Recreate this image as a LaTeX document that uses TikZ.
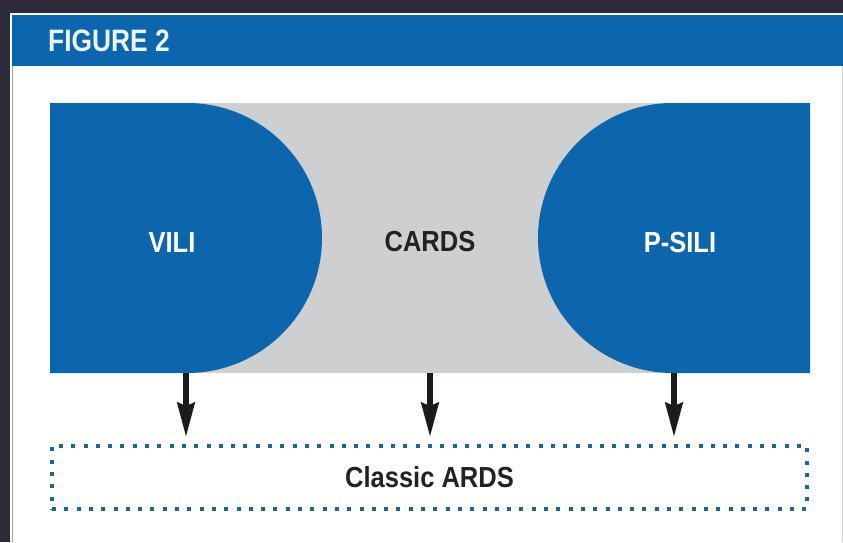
\documentclass[tikz,border=0pt]{standalone}
\usepackage{fontspec}
\setmainfont{Liberation Sans}[FakeStretch=0.88]
\newfontfamily\headfont{Liberation Sans}[FakeStretch=0.85]
\usetikzlibrary{arrows.meta}

\definecolor{framedark}{HTML}{2C2A38}
\definecolor{headblue}{HTML}{0B66AD}
\definecolor{headtext}{HTML}{EAF4FA}
\definecolor{panelgray}{HTML}{CDCFD1}
\definecolor{dotblue}{HTML}{1E6592}
\definecolor{arrowink}{HTML}{1B1B1B}
\definecolor{labelink}{HTML}{222222}

\tikzset{
  lobe/.style={fill=headblue, draw=none},
  lobelabel/.style={text=white, font=\bfseries\fontsize{29}{30}\selectfont, inner sep=0pt},
  midlabel/.style={text=labelink, font=\bfseries\fontsize{29}{30}\selectfont, inner sep=0pt},
  dotbox/.style={draw=dotblue, line width=4pt, dash pattern=on 4pt off 8.3pt,
    minimum width=755pt, minimum height=63pt, inner sep=0pt,
    text=labelink, font=\bfseries\fontsize{29}{30}\selectfont},
  downarrow/.style={draw=arrowink, line width=6pt, shorten >=7pt,
    -{Stealth[length=34pt, width=17pt, inset=3pt]}}
}

\begin{document}
\begin{tikzpicture}[x=1pt, y=-1pt]
  \useasboundingbox (0,0) rectangle (843,542);

  % frame and white panel
  \fill[framedark] (0,0) rectangle (843,542);
  \fill[white] (10,13) rectangle (843,542);
  \draw[gray!70, line width=1pt] (12.5,66) -- (12.5,542);
  \draw[gray!35, line width=1pt] (842,66) -- (842,542);

  % header bar
  \fill[headblue] (12,15) rectangle (843,66);
  \node[anchor=base west, inner sep=0pt, text=headtext,
        font=\headfont\bfseries\fontsize{31}{32}\selectfont] (title) at (48,51.7) {FIGURE 2};

  % gray band with the two blue lobes
  \node[fill=panelgray, draw=none, minimum width=760pt, minimum height=270pt,
        inner sep=0pt, outer sep=0pt] (cards) at (430,238) {};
  \fill[lobe] (cards.north west) -- (187,103)
      arc[start angle=-90, end angle=90, radius=135] -- (cards.south west) -- cycle;
  \fill[lobe] (cards.north east) -- (673,103)
      arc[start angle=-90, end angle=-270, radius=135] -- (cards.south east) -- cycle;

  \node[lobelabel] (vili) at (172,242.5) {VILI};
  \node[midlabel] (cardslabel) at (430,242) {CARDS};
  \node[lobelabel] (psili) at (680,242.5) {P-SILI};

  % dotted outcome box
  \node[dotbox] (ards) at (429.5,477.5) {Classic ARDS};

  % arrows
  \coordinate (s1) at (186,373);
  \coordinate (s2) at (430,373);
  \coordinate (s3) at (674,373);
  \draw[downarrow] (s1) -- (s1 |- ards.north);
  \draw[downarrow] (s2) -- (s2 |- ards.north);
  \draw[downarrow] (s3) -- (s3 |- ards.north);
\end{tikzpicture}
\end{document}
